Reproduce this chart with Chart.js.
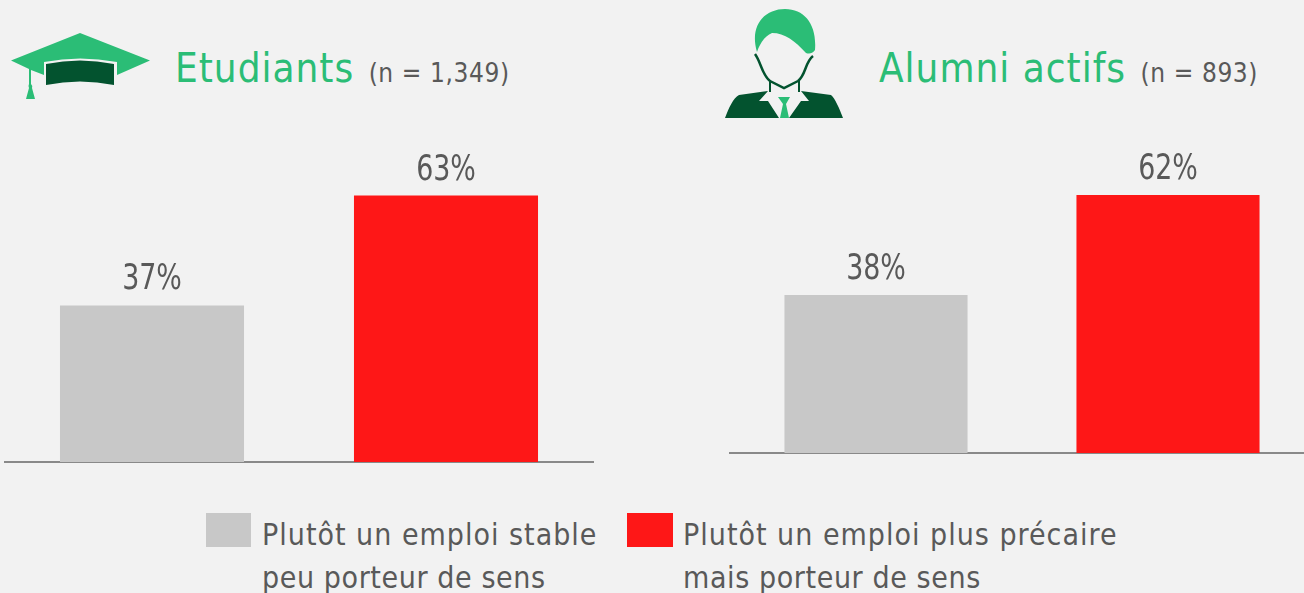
<!DOCTYPE html>
<html>
<head>
<meta charset="utf-8">
<script src="https://cdn.jsdelivr.net/npm/chart.js@4"></script>
<style>
html, body { margin:0; padding:0; width:1304px; height:593px; overflow:hidden; background:#f2f2f2; font-family:"DejaVu Sans Condensed", "DejaVu Sans", sans-serif; font-stretch:condensed; color:#595959; }
canvas { position:absolute; top:0; }
#chartLeft { left:0; }
#chartRight { left:725px; }
.title { position:absolute; white-space:nowrap; color:#2bbd76; font-size:40px; line-height:50px; letter-spacing:1px; }
.title small { color:#595959; font-size:26px; letter-spacing:0.6px; margin-left:2px; }
.icon { position:absolute; left:0; top:0; }
.swatch { position:absolute; top:513px; height:34px; }
.legend { position:absolute; top:513px; font-size:30px; line-height:43px; white-space:nowrap; letter-spacing:1px; }
.legend span { letter-spacing:0.6px; }
</style>
</head>
<body>
<svg class="icon" width="1304" height="130" viewBox="0 0 1304 130">
  <path d="M80 33 L150 60.5 L117 75 L117 62 Q80 55 44 62 L44 75 L31 70 L31 84 Q33 86 32 88 L35 99 L26 99 L29 88 Q28 86 29 84 L29 69 L11 60.5 Z" fill="#2bbd76"/>
  <path d="M46 64 Q80 57 114 64 L114 85 Q80 78 46 85 Z" fill="#03532f"/>
  <path d="M757 52 C749 25 765 9 785 9 C805 9 817 25 815 50 C812 54 809 54 806 53 C795 41 785 33 772 33 C765 36 760 43 757 52 Z" fill="#2bbd76"/>
  <path d="M755 54 C761 62 762 75 770 81 L784 88 L798 81 C806 75 805 62 813 56" fill="none" stroke="#03532f" stroke-width="2.5"/>
  <path d="M770 80 L770 92 M799 80 L799 92" stroke="#03532f" stroke-width="2"/>
  <path d="M725 118 C729 108 733 98 739 95 L768 91 L759 101 L768 101 L779 118 Z" fill="#03532f"/>
  <path d="M843 118 C839 108 835 98 831 95 L801 91 L809 101 L801 101 L789 118 Z" fill="#03532f"/>
  <path d="M778 97 L790 97 L786 104 L789 118 L780 118 L783 104 Z" fill="#2bbd76"/>
</svg>

<div class="title" style="left:175px;top:43px">Etudiants <small>(n = 1,349)</small></div>
<div class="title" style="left:879px;top:43px">Alumni actifs <small>(n = 893)</small></div>

<canvas id="chartLeft"></canvas>
<canvas id="chartRight"></canvas>

<div class="swatch" style="left:206px;width:45px;background:#c8c8c8"></div>
<div class="legend" style="left:262px">Plutôt un emploi stable<br><span>peu porteur de sens</span></div>
<div class="swatch" style="left:627px;width:46px;background:#fe1717"></div>
<div class="legend" style="left:683px">Plutôt un emploi plus précaire<br><span>mais porteur de sens</span></div>

<script>
const categories = ['Plutôt un emploi stable peu porteur de sens', 'Plutôt un emploi plus précaire mais porteur de sens'];
const etudiantsValues = [37, 63];
const alumniValues = [38, 62];
const barColors = ['#c8c8c8', '#fe1717'];

// number above each bar, squeezed a bit since the original font is narrower
const valueLabels = {
  id: 'valueLabels',
  afterDatasetsDraw(chart) {
    const c = chart.ctx;
    const meta = chart.getDatasetMeta(0);
    c.fillStyle = '#595959';
    c.textBaseline = 'alphabetic';
    c.textAlign = 'center';
    c.font = '36px "DejaVu Sans Condensed", "DejaVu Sans"';
    meta.data.forEach((bar, i) => {
      c.save();
      c.translate(bar.x, bar.y - 16);
      c.scale(0.83, 1);
      c.fillText(chart.data.datasets[0].data[i] + '%', 0, 0);
      c.restore();
    });
  }
};

function makeChart(id, values, w, h, pad, barPct) {
  const el = document.getElementById(id);
  el.width = w; el.height = h;
  el.style.width = w + 'px'; el.style.height = h + 'px';
  return new Chart(el, {
    type: 'bar',
    data: { labels: categories, datasets: [{ data: values, backgroundColor: barColors, barPercentage: barPct, categoryPercentage: 1 }] },
    options: {
      responsive: false,
      animation: false,
      layout: { padding: pad },
      plugins: { legend: { display: false }, tooltip: { enabled: false } },
      scales: {
        x: {
          grid: { display: false, drawTicks: false },
          border: { display: true, color: '#898989', width: 2 },
          ticks: { display: false }
        },
        y: { display: false, min: 0, max: 100 }
      }
    },
    plugins: [valueLabels]
  });
}

makeChart('chartLeft', etudiantsValues, 600, 480, { left: 5, right: 7, top: 39, bottom: 18 }, 0.626);
makeChart('chartRight', alumniValues, 600, 480, { left: 5, right: 11, top: 37, bottom: 27 }, 0.627);
</script>
</body>
</html>
